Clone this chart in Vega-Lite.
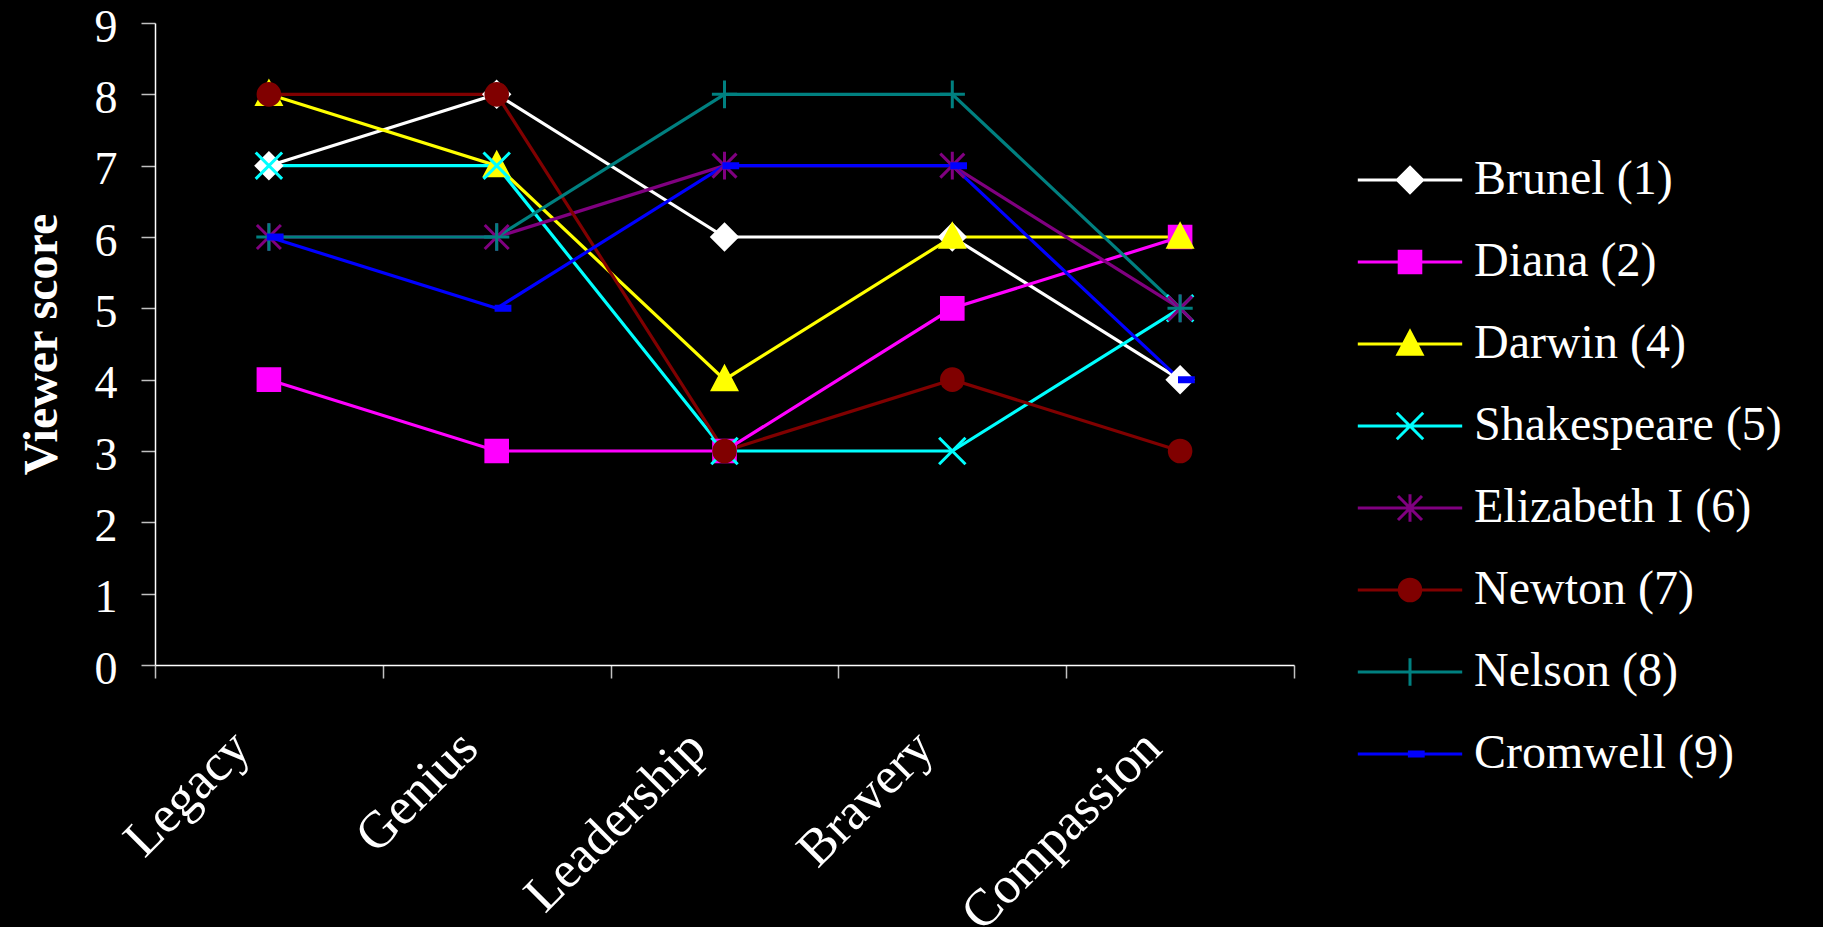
{
  "$schema": "https://vega.github.io/schema/vega-lite/v6.json",
  "background": "#000000",
  "autosize": "none",
  "padding": {"left": 155, "top": 23, "right": 529, "bottom": 262},
  "width": 1139,
  "height": 642,
  "config": {"view": {"stroke": null}},
  "data": {"values": [
    {"person": "Brunel (1)", "attribute": "Legacy", "score": 7},
    {"person": "Brunel (1)", "attribute": "Genius", "score": 8},
    {"person": "Brunel (1)", "attribute": "Leadership", "score": 6},
    {"person": "Brunel (1)", "attribute": "Bravery", "score": 6},
    {"person": "Brunel (1)", "attribute": "Compassion", "score": 4},
    {"person": "Diana (2)", "attribute": "Legacy", "score": 4},
    {"person": "Diana (2)", "attribute": "Genius", "score": 3},
    {"person": "Diana (2)", "attribute": "Leadership", "score": 3},
    {"person": "Diana (2)", "attribute": "Bravery", "score": 5},
    {"person": "Diana (2)", "attribute": "Compassion", "score": 6},
    {"person": "Darwin (4)", "attribute": "Legacy", "score": 8},
    {"person": "Darwin (4)", "attribute": "Genius", "score": 7},
    {"person": "Darwin (4)", "attribute": "Leadership", "score": 4},
    {"person": "Darwin (4)", "attribute": "Bravery", "score": 6},
    {"person": "Darwin (4)", "attribute": "Compassion", "score": 6},
    {"person": "Shakespeare (5)", "attribute": "Legacy", "score": 7},
    {"person": "Shakespeare (5)", "attribute": "Genius", "score": 7},
    {"person": "Shakespeare (5)", "attribute": "Leadership", "score": 3},
    {"person": "Shakespeare (5)", "attribute": "Bravery", "score": 3},
    {"person": "Shakespeare (5)", "attribute": "Compassion", "score": 5},
    {"person": "Elizabeth I (6)", "attribute": "Legacy", "score": 6},
    {"person": "Elizabeth I (6)", "attribute": "Genius", "score": 6},
    {"person": "Elizabeth I (6)", "attribute": "Leadership", "score": 7},
    {"person": "Elizabeth I (6)", "attribute": "Bravery", "score": 7},
    {"person": "Elizabeth I (6)", "attribute": "Compassion", "score": 5},
    {"person": "Newton (7)", "attribute": "Legacy", "score": 8},
    {"person": "Newton (7)", "attribute": "Genius", "score": 8},
    {"person": "Newton (7)", "attribute": "Leadership", "score": 3},
    {"person": "Newton (7)", "attribute": "Bravery", "score": 4},
    {"person": "Newton (7)", "attribute": "Compassion", "score": 3},
    {"person": "Nelson (8)", "attribute": "Legacy", "score": 6},
    {"person": "Nelson (8)", "attribute": "Genius", "score": 6},
    {"person": "Nelson (8)", "attribute": "Leadership", "score": 8},
    {"person": "Nelson (8)", "attribute": "Bravery", "score": 8},
    {"person": "Nelson (8)", "attribute": "Compassion", "score": 5},
    {"person": "Cromwell (9)", "attribute": "Legacy", "score": 6},
    {"person": "Cromwell (9)", "attribute": "Genius", "score": 5},
    {"person": "Cromwell (9)", "attribute": "Leadership", "score": 7},
    {"person": "Cromwell (9)", "attribute": "Bravery", "score": 7},
    {"person": "Cromwell (9)", "attribute": "Compassion", "score": 4}
  ]},
  "encoding": {
    "x": {
      "field": "attribute", "type": "nominal",
      "sort": ["Legacy", "Genius", "Leadership", "Bravery", "Compassion"],
      "bandPosition": 0.5,
      "scale": {"type": "band", "paddingInner": 0, "paddingOuter": 0},
      "axis": {
        "title": null, "tickBand": "extent", "tickSize": 13, "tickColor": "#c0c0c0", "tickWidth": 1.5,
        "domainColor": "#ffffff", "domainWidth": 1.5,
        "labelAngle": -45, "labelAlign": "right", "labelBaseline": "middle",
        "labelFont": "Liberation Serif", "labelFontSize": 52, "labelColor": "#ffffff",
        "labelPadding": 61, "labelOffset": -28, "labelLimit": 0
      }
    },
    "y": {
      "field": "score", "type": "quantitative",
      "scale": {"domain": [0, 9], "nice": false},
      "axis": {
        "values": [0, 1, 2, 3, 4, 5, 6, 7, 8, 9], "grid": false,
        "tickSize": 14, "tickColor": "#c0c0c0", "tickWidth": 1.5,
        "domainColor": "#ffffff", "domainWidth": 1.5,
        "labelFont": "Liberation Serif", "labelFontSize": 46, "labelColor": "#ffffff", "labelPadding": 24, "labelOffset": 4,
        "title": "Viewer score", "titleFont": "Liberation Serif", "titleFontSize": 48, "titleFontWeight": "bold",
        "titleColor": "#ffffff", "titleAngle": -90, "titleX": -99, "titleY": 321,
        "titleBaseline": "alphabetic", "titleAlign": "center"
      }
    }
  },
  "layer": [
    {
      "mark": {"type": "point", "filled": true, "opacity": 0, "size": 576, "strokeWidth": 3},
      "encoding": {
        "color": {
          "field": "person", "type": "nominal",
          "scale": {
            "domain": ["Brunel (1)", "Diana (2)", "Darwin (4)", "Shakespeare (5)", "Elizabeth I (6)", "Newton (7)", "Nelson (8)", "Cromwell (9)"],
            "range": ["#ffffff", "#ff00ff", "#ffff00", "#00ffff", "#800080", "#800000", "#008080", "#0000ff"]
          },
          "legend": {
            "orient": "none", "legendX": 1191, "legendY": 133, "title": null, "padding": 0,
            "symbolSize": 576, "symbolStrokeWidth": 3, "symbolOffset": 40, "symbolOpacity": 1,
            "labelFont": "Liberation Serif", "labelFontSize": 48, "labelColor": "#ffffff",
            "labelOffset": 40, "labelLimit": 0, "rowPadding": 34
          }
        },
        "stroke": {
          "field": "person", "type": "nominal",
          "scale": {
            "domain": ["Brunel (1)", "Diana (2)", "Darwin (4)", "Shakespeare (5)", "Elizabeth I (6)", "Newton (7)", "Nelson (8)", "Cromwell (9)"],
            "range": ["#ffffff", "#ff00ff", "#ffff00", "#00ffff", "#800080", "#800000", "#008080", "#0000ff"]
          },
          "legend": {
            "orient": "none", "legendX": 1191, "legendY": 133, "title": null, "padding": 0,
            "symbolSize": 576, "symbolStrokeWidth": 3, "symbolOffset": 40, "symbolOpacity": 1,
            "labelFont": "Liberation Serif", "labelFontSize": 48, "labelColor": "#ffffff",
            "labelOffset": 40, "labelLimit": 0, "rowPadding": 34
          }
        },
        "shape": {
          "field": "person", "type": "nominal",
          "scale": {
            "domain": ["Brunel (1)", "Diana (2)", "Darwin (4)", "Shakespeare (5)", "Elizabeth I (6)", "Newton (7)", "Nelson (8)", "Cromwell (9)"],
            "range": [
              "M-4.35,0H4.35M0,-1.05L1.05,0L0,1.05L-1.05,0Z",
              "M-4.35,0H4.35M-0.9,-0.9H0.9V0.9H-0.9Z",
              "M-4.35,0H4.35M0,-1.05L1,0.85H-1Z",
              "M-4.35,0H4.35M-1.1,-1.1L1.1,1.1M1.1,-1.1L-1.1,1.1",
              "M-4.35,0H4.35M-1,-1L1,1M1,-1L-1,1M0,-1.15V1.15",
              "M-4.35,0H4.35M-0.9,0A0.9,0.9,0,1,0,0.9,0A0.9,0.9,0,1,0,-0.9,0Z",
              "M-4.35,0H4.35M-1.05,0H1.05M0,-1.15V1.15",
              "M-4.35,0H4.35M-0.05,-0.17H1.1V0.17H-0.05Z"
            ]
          },
          "legend": {
            "orient": "none", "legendX": 1191, "legendY": 133, "title": null, "padding": 0,
            "symbolSize": 576, "symbolStrokeWidth": 3, "symbolOffset": 40, "symbolOpacity": 1,
            "labelFont": "Liberation Serif", "labelFontSize": 48, "labelColor": "#ffffff",
            "labelOffset": 40, "labelLimit": 0, "rowPadding": 34
          }
        }
      }
    },
    {
      "mark": {"type": "line", "strokeWidth": 3.2},
      "encoding": {
        "color": {"field": "person", "type": "nominal", "legend": null}
      }
    },
    {"transform": [{"filter": "datum.person === 'Brunel (1)'"}], "mark": {"type": "point", "shape": "M0,-1.05L1.05,0L0,1.05L-1.05,0Z", "filled": true, "color": "#ffffff", "stroke": "#ffffff", "strokeWidth": 3, "size": 576, "opacity": 1}},
    {"transform": [{"filter": "datum.person === 'Diana (2)'"}], "mark": {"type": "point", "shape": "M-0.9,-0.9H0.9V0.9H-0.9Z", "filled": true, "color": "#ff00ff", "stroke": "#ff00ff", "strokeWidth": 3, "size": 576, "opacity": 1}},
    {"transform": [{"filter": "datum.person === 'Darwin (4)'"}], "mark": {"type": "point", "shape": "M0,-1.05L1,0.85H-1Z", "filled": true, "color": "#ffff00", "stroke": "#ffff00", "strokeWidth": 3, "size": 576, "opacity": 1}},
    {"transform": [{"filter": "datum.person === 'Shakespeare (5)'"}], "mark": {"type": "point", "shape": "M-1.1,-1.1L1.1,1.1M1.1,-1.1L-1.1,1.1", "filled": true, "color": "#00ffff", "stroke": "#00ffff", "strokeWidth": 3, "size": 576, "opacity": 1}},
    {"transform": [{"filter": "datum.person === 'Elizabeth I (6)'"}], "mark": {"type": "point", "shape": "M-1,-1L1,1M1,-1L-1,1M0,-1.15V1.15", "filled": true, "color": "#800080", "stroke": "#800080", "strokeWidth": 3, "size": 576, "opacity": 1}},
    {"transform": [{"filter": "datum.person === 'Newton (7)'"}], "mark": {"type": "point", "shape": "M-0.9,0A0.9,0.9,0,1,0,0.9,0A0.9,0.9,0,1,0,-0.9,0Z", "filled": true, "color": "#800000", "stroke": "#800000", "strokeWidth": 3, "size": 576, "opacity": 1}},
    {"transform": [{"filter": "datum.person === 'Nelson (8)'"}], "mark": {"type": "point", "shape": "M-1.05,0H1.05M0,-1.15V1.15", "filled": true, "color": "#008080", "stroke": "#008080", "strokeWidth": 3, "size": 576, "opacity": 1}},
    {"transform": [{"filter": "datum.person === 'Cromwell (9)'"}], "mark": {"type": "point", "shape": "M-0.05,-0.17H1.1V0.17H-0.05Z", "filled": true, "color": "#0000ff", "stroke": "#0000ff", "strokeWidth": 3, "size": 576, "opacity": 1}}
  ]
}
